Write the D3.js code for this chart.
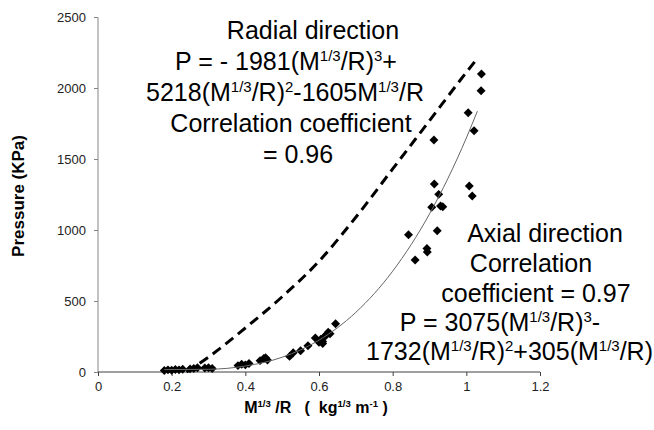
<!DOCTYPE html>
<html>
<head>
<meta charset="utf-8">
<script src="https://cdn.jsdelivr.net/npm/d3@7"></script>
<style>
  html, body { margin: 0; padding: 0; background: #fff; }
  svg { display: block; }
  text { font-family: "Liberation Sans", Arial, sans-serif; }
</style>
</head>
<body>
<svg id="chart" width="654" height="430"></svg>
<script>
// ---- data ----
const xTicks = [0, 0.2, 0.4, 0.6, 0.8, 1, 1.2];
const yTicks = [0, 500, 1000, 1500, 2000, 2500];

// measured points (M^1/3/R, pressure kPa)
const obsX = [0.18, 0.19, 0.20, 0.21, 0.22, 0.23, 0.25, 0.26, 0.27, 0.29, 0.30, 0.31,
              0.38, 0.39, 0.40, 0.41, 0.44, 0.45, 0.455, 0.46,
              0.52, 0.53, 0.55, 0.57, 0.59, 0.60, 0.605, 0.61, 0.61, 0.615, 0.62, 0.625, 0.63, 0.645,
              0.843, 0.861, 0.893, 0.894, 0.906, 0.912, 0.913, 0.921, 0.925, 0.93, 0.936,
              1.005, 1.008, 1.016, 1.021, 1.040, 1.041];
const obsP = [10, 15, 12, 18, 15, 20, 22, 25, 30, 28, 30, 25,
              45, 55, 50, 60, 80, 95, 100, 85,
              110, 135, 150, 185, 240, 210, 230, 200, 215, 250, 260, 280, 270, 340,
              967, 789, 870, 845, 1160, 1634, 1324, 995, 1251, 1169, 1164,
              1826, 1310, 1239, 1699, 1981, 2099];

// axial trend line (thin solid)
const axialX = [0.18, 0.3, 0.4, 0.5, 0.6, 0.7, 0.8, 0.9, 1.0, 1.03];
const axialP = [17, 19, 42, 104, 224, 420, 710, 1113, 1648, 1837];

// radial trend line (dashed)
const radialX = [0.24, 0.3, 0.4, 0.5, 0.6, 0.7, 0.8, 0.9, 1.0, 1.026];
const radialP = [0, 105, 310, 530, 780, 1090, 1430, 1770, 2110, 2195];

// ---- chart ----
const svg = d3.select("#chart");
const font = '"Liberation Sans", Arial, sans-serif';

const x = d3.scaleLinear().domain([0, 1.2]).range([98, 540]);
const y = d3.scaleLinear().domain([0, 2500]).range([372, 17]);

// y axis
const yAxis = svg.append("g").attr("transform", "translate(98,0)")
  .call(d3.axisLeft(y).tickValues(yTicks).tickSize(4).tickPadding(8).tickFormat(d3.format("d")));
yAxis.selectAll("path,line").attr("stroke", "#868686");
yAxis.selectAll("text").attr("font-size", 13).attr("font-family", font).attr("fill", "#222");
yAxis.select(".domain").attr("d", "M-4,17.5H0V372");

// x axis
const xAxis = svg.append("g").attr("transform", "translate(0,372)")
  .call(d3.axisBottom(x).tickValues(xTicks).tickSize(4).tickPadding(6).tickFormat(d => d3.format("")(d)));
xAxis.selectAll("path,line").attr("stroke", "#404040");
xAxis.select(".domain").attr("d", "M98,0H540");
xAxis.selectAll("text").attr("font-size", 13).attr("font-family", font).attr("fill", "#222");

// lines
const axialData = axialX.map((v, i) => [v, axialP[i]]);
const radialData = radialX.map((v, i) => [v, radialP[i]]);
const line = d3.line().x(d => x(d[0])).y(d => y(d[1])).curve(d3.curveMonotoneX);

svg.append("path").datum(radialData).attr("d", line)
  .attr("fill", "none").attr("stroke", "#000").attr("stroke-width", 3)
  .attr("stroke-dasharray", "10,6");

// points
const pts = obsX.map((v, i) => [v, obsP[i]]);
svg.append("g").selectAll("path").data(pts).join("path")
  .attr("d", d3.symbol(d3.symbolSquare, 40))
  .attr("transform", d => `translate(${x(d[0])},${y(d[1])}) rotate(45)`)
  .attr("fill", "#000");

svg.append("path").datum(axialData).attr("d", line)
  .attr("fill", "none").attr("stroke", "#666").attr("stroke-width", 1);

// rich text helper
function rich(px, py, parts, size, anchor, weight) {
  const t = svg.append("text").attr("x", px).attr("y", py)
    .attr("font-size", size).attr("text-anchor", anchor || "middle")
    .attr("font-weight", weight || "normal").attr("fill", "#000")
    .style("white-space", "pre");
  let up = false;
  parts.forEach(p => {
    const isSup = Array.isArray(p);
    const s = isSup ? p[0] : p;
    const ts = t.append("tspan").text(s);
    if (isSup && !up) { ts.attr("dy", -0.38 * size).attr("font-size", size * 0.6); up = true; }
    else if (isSup && up) { ts.attr("font-size", size * 0.6); }
    else if (!isSup && up) { ts.attr("dy", 0.38 * size); up = false; }
  });
  return t;
}

const fs = 25;
// radial annotation
rich(313, 39, ["Radial direction"], fs);
rich(286, 70, ["P = - 1981(M", ["1/3"], "/R)", ["3"], "+"], fs);
rich(285, 101, ["5218(M", ["1/3"], "/R)", ["2"], "-1605M", ["1/3"], "/R"], fs);
rich(291, 132, ["Correlation coefficient"], fs);
rich(298, 163, ["= 0.96"], fs);

// axial annotation
rich(545, 242, ["Axial direction"], fs);
rich(531, 272, ["Correlation"], fs);
rich(536, 302, ["coefficient = 0.97"], fs);
rich(500, 331, ["P = 3075(M", ["1/3"], "/R)", ["3"], "-"], fs);
rich(653, 360, ["1732(M", ["1/3"], "/R)", ["2"], "+305(M", ["1/3"], "/R)"], fs, "end");

// axis titles
rich(316, 413, ["M", ["1/3"], " /R   (  kg", ["1/3"], " m", ["-1"], " )"], 16, "middle", "bold");
svg.append("text").attr("transform", "translate(24,196) rotate(-90)")
  .attr("text-anchor", "middle").attr("font-size", 17).attr("font-weight", "bold")
  .text("Pressure (KPa)");
</script>
</body>
</html>
